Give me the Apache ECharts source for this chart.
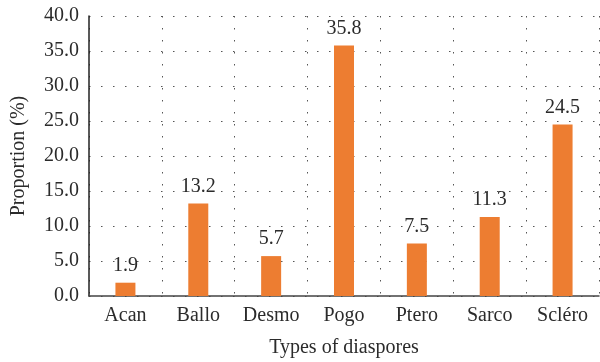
<!DOCTYPE html>
<html>
<head>
<meta charset="utf-8">
<script src="https://cdn.jsdelivr.net/npm/echarts@6/dist/echarts.min.js"></script>
<style>
  html, body { margin: 0; padding: 0; background: #fff; }
  #chart { width: 600px; height: 362px; }
</style>
</head>
<body>
<div id="chart"></div>
<script>
// Seed dispersal types and their share of species
const categories = ['Acan', 'Ballo', 'Desmo', 'Pogo', 'Ptero', 'Sarco', 'Scléro'];
const proportions = [1.9, 13.2, 5.7, 35.8, 7.5, 11.3, 24.5];

const FONT = 'Liberation Serif';
const TEXT = '#2b2b2b';
const SIZE = 20;

const chart = echarts.init(document.getElementById('chart'), null, { renderer: 'canvas' });

chart.setOption({
  animation: false,
  backgroundColor: '#ffffff',
  grid: { left: 89, right: 1, top: 16, bottom: 66, containLabel: false, outerBoundsMode: 'none' },
  xAxis: {
    type: 'category',
    data: categories,
    name: 'Types of diaspores',
    nameLocation: 'middle',
    nameGap: 42,
    nameTextStyle: { fontFamily: FONT, fontSize: SIZE, color: TEXT },
    axisLine: { show: true, lineStyle: { color: '#444', width: 1.5 } },
    axisTick: { show: false },
    axisLabel: { fontFamily: FONT, fontSize: SIZE, color: TEXT, margin: 10, interval: 0 },
    splitLine: { show: true, interval: 0, lineStyle: { color: '#555', width: 1, type: [1.5, 10.5] } }
  },
  yAxis: {
    type: 'value',
    min: 0,
    max: 40,
    interval: 5,
    name: 'Proportion (%)',
    nameLocation: 'middle',
    nameGap: 60,
    nameTextStyle: { fontFamily: FONT, fontSize: SIZE, color: TEXT },
    axisLine: { show: true, lineStyle: { color: '#222', width: 1.5 } },
    axisTick: { show: false },
    axisLabel: {
      fontFamily: FONT, fontSize: SIZE, color: TEXT, margin: 10,
      formatter: v => v.toFixed(1)
    },
    splitLine: { show: true, lineStyle: { color: '#555', width: 1, type: [1.5, 10.5] } }
  },
  series: [{
    type: 'bar',
    data: proportions,
    barWidth: 20,
    itemStyle: { color: '#ED7D31' },
    label: {
      show: true,
      position: 'top',
      distance: 7,
      fontFamily: FONT,
      fontSize: SIZE,
      color: TEXT,
      formatter: p => p.value.toFixed(1)
    }
  }]
});
</script>
</body>
</html>
